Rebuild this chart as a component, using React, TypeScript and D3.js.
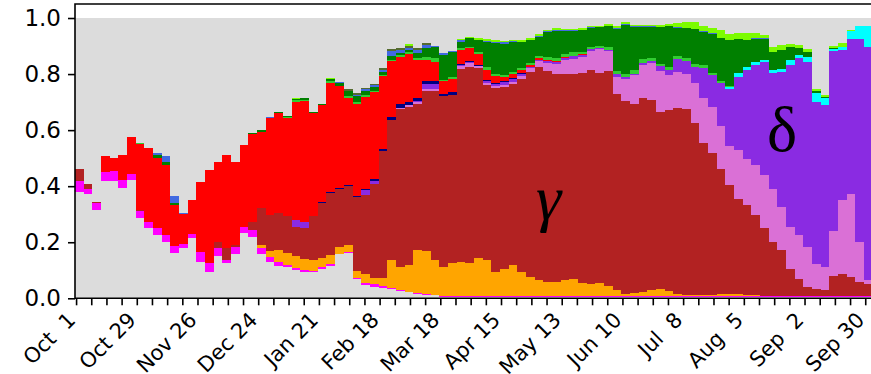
import React, { useEffect, useRef } from 'react';
import * as d3 from 'd3';

// Share of sequenced samples by lineage (percent), one value per 4-day block.
// Block k starts k*4 days after 1 Oct 2020.
const sampleDays = d3.range(0, 368, 4);

const otherLow = [
  38.1, 37.1, 31.5, 42.0, 41.7, 39.3, 42.3, 28.8, 25.0, 22.6,
  20.2, 16.1, 17.9, 21.4, 13.1, 9.5, 15.2, 12.5, 15.7, 23.2,
  22.0, 15.7, 12.9, 11.7, 11.0, 10.1, 9.3, 9.3, 10.5, 11.7,
  15.7, 16.1, 6.9, 4.8, 4.2, 3.8, 3.3, 2.6, 2.1, 1.7,
  1.2, 1.0, 0.6, 0.6, 0.6, 0.6, 0.6, 0.6, 0.6, 0.6,
  0.6, 0.6, 0.6, 0.6, 0.6, 0.6, 0.6, 0.6, 0.6, 0.6,
  0.6, 0.6, 0.6, 0.6, 0.6, 0.6, 0.6, 0.6, 0.6, 0.6,
  0.6, 0.6, 0.6, 0.6, 0.6, 0.6, 0.6, 0.6, 0.6, 0.6,
  0.6, 0.6, 0.6, 0.6, 0.6, 0.6, 0.6, 0.6, 0.6, 0.6,
  0.6, 0.6,
];
const magenta = [
  3.9, 1.9, 2.4, 3.2, 3.6, 3.0, 2.0, 2.4, 2.4, 2.4,
  2.4, 2.4, 1.4, 1.4, 3.3, 3.0, 2.6, 1.2, 2.7, 2.4,
  2.4, 2.1, 2.0, 1.4, 1.0, 0.8, 0.8, 0.5, 0.8, 0.5,
  0.2, 0.4, 0.4, 0.6, 0.8, 0.5, 0.2, 0.2, 0.2, 0.2,
  0.2, 0.2, 0.2, 0.2, 0.2, 0.2, 0.1, 0.1, 0.1, 0.1,
  0.1, 0.1, 0.1, 0.1, 0.1, 0.1, 0.1, 0.1, 0.1, 0.1,
  0.1, 0.1, 0.1, 0.1, 0.1, 0.1, 0.1, 0.1, 0.1, 0.1,
  0.1, 0.1, 0.1, 0.1, 0.1, 0.1, 0.1, 0.1, 0.1, 0.1,
  0.1, 0.1, 0.1, 0.1, 0.1, 0.1, 0.1, 0.1, 0.1, 0.1,
  0.1, 0.1,
];
const orange = [
  0, 0, 0, 0, 0, 0, 0, 0, 0, 0,
  0, 0, 0, 0, 0, 0, 0, 0, 0, 0,
  0, 1.2, 2.0, 4.0, 4.0, 4.2, 3.8, 3.8, 3.2, 3.2,
  2.5, 2.4, 2.5, 3.2, 2.4, 2.9, 10.1, 8.5, 9.5, 15.3,
  15.5, 12.5, 10.5, 11.8, 12.1, 11.7, 13.5, 12.9, 8.7, 9.9,
  11.1, 8.6, 6.9, 5.7, 5.1, 5.1, 5.7, 6.3, 4.8, 4.5,
  4.8, 3.7, 2.1, 1.0, 1.2, 1.6, 2.1, 2.5, 1.8, 0.7,
  0.6, 0.4, 0.4, 0.4, 1.0, 1.0, 1.0, 0.6, 0.4, 0.1,
  0, 0, 0, 0, 0, 0, 0, 0, 0, 0,
  0, 0,
];
const gamma = [
  4.2, 1.7, 0.6, 0, 0, 0, 0, 0.3, 0, 0,
  0, 0, 0, 0, 0, 0, 2.4, 4.2, 0.6, 0,
  3.0, 13.1, 12.9, 13.3, 13.3, 10.4, 11.1, 15.6, 19.4, 22.1,
  20.6, 21.3, 26.4, 28.1, 33.3, 45.2, 50.0, 56.3, 56.5, 52.0,
  57.1, 60.2, 60.7, 60.1, 69.0, 70.2, 67.9, 62.6, 65.7, 64.8,
  64.5, 69.0, 73.2, 76.2, 75.4, 74.4, 73.8, 73.2, 75.0, 76.2,
  75.0, 76.7, 70.2, 68.8, 67.4, 69.0, 68.1, 63.3, 64.6, 66.5,
  66.3, 61.5, 54.2, 50.6, 44.6, 38.7, 33.9, 32.1, 28.6, 24.2,
  19.4, 16.5, 9.9, 6.3, 3.3, 2.7, 2.1, 7.1, 8.1, 6.8,
  5.0, 4.5,
];
const orchid = [
  0, 0, 0, 0, 0, 0, 0, 0, 0, 0,
  0, 0, 0, 0, 0, 0, 0, 0, 0, 0,
  0, 0, 0, 0, 0, 0, 0, 0, 0, 0,
  0, 0, 0, 0, 0, 0, 0, 0.4, 0.5, 0.7,
  0.5, 0.7, 0, 0, 1.0, 1.2, 0.7, 0.5, 0.5, 0.7,
  1.0, 1.1, 1.2, 2.0, 2.7, 3.3, 4.8, 5.2, 5.6, 6.9,
  8.3, 7.1, 6.0, 7.9, 10.2, 12.1, 13.1, 14.6, 12.5, 12.7,
  12.5, 14.3, 16.1, 16.7, 15.0, 14.0, 17.3, 16.4, 17.9, 19.0,
  19.0, 15.5, 14.9, 15.5, 14.3, 8.9, 8.3, 16.1, 26.2, 29.8,
  14.3, 1.2,
];
const delta = [
  0, 0, 0, 0, 0, 0, 0, 0, 0, 0,
  0, 0, 0, 0, 0, 0, 0, 0, 0, 0,
  0, 0, 0, 0, 0, 2.4, 2.1, 0, 0, 0,
  0, 0, 0, 2.0, 1.2, 0, 0, 0, 0, 0.5,
  1.9, 1.8, 0, 0, 0.4, 0.4, 0, 0.7, 0.7, 1.0,
  0.8, 0.7, 0.6, 0.5, 0.6, 0.7, 0.8, 1.2, 0.7, 0.5,
  0.4, 0.5, 1.0, 0.7, 0.7, 0.7, 0.7, 1.8, 1.8, 4.8,
  4.5, 5.6, 10.7, 11.3, 15.5, 20.2, 26.2, 31.5, 35.7, 40.2,
  41.4, 48.0, 57.7, 63.1, 66.1, 57.7, 57.7, 64.3, 53.6, 55.1,
  72.4, 83.3,
];
const cyan = [
  0, 0, 0, 0, 0, 0, 0, 0, 0, 0,
  0, 0, 0, 0, 0, 0, 0, 0, 0, 0,
  0, 0, 0, 0, 0, 0, 0, 0, 0, 0,
  0, 0, 0, 0, 0, 0, 0, 0, 0, 0,
  0, 0, 0, 0, 0, 0, 0, 0, 0, 0,
  0, 0, 0, 0, 0, 0, 0, 0, 0, 0,
  0, 0, 0, 0, 0, 0, 0, 0, 0, 0,
  0, 0, 0, 0, 0, 0.7, 1.2, 1.2, 1.0, 0.8,
  0.8, 1.0, 1.8, 1.2, 1.8, 3.3, 2.7, 0.8, 1.2, 2.9,
  4.8, 7.4,
];
const navy = [
  0, 0, 0, 0, 0, 0, 0, 0, 0, 0,
  0, 0, 0, 0, 0, 0, 0, 0, 0, 0,
  0, 0, 0, 0, 0, 0, 0, 0, 0.3, 0.4,
  0.5, 0.4, 0.3, 0.4, 0.6, 0.8, 1.2, 1.4, 1.2, 1.0,
  1.2, 1.2, 1.0, 1.0, 0.4, 0.2, 0.4, 0.4, 0.4, 0.4,
  0.4, 0.2, 0, 0, 0, 0, 0, 0, 0, 0,
  0, 0, 0, 0, 0, 0, 0, 0, 0, 0,
  0, 0, 0, 0, 0, 0, 0, 0, 0, 0,
  0, 0, 0, 0, 0, 0, 0, 0, 0, 0,
  0, 0,
];
const red = [
  0, 0, 0, 5.4, 4.8, 8.9, 13.1, 23.6, 26.2, 25.0,
  25.0, 14.9, 10.7, 12.1, 25.2, 33.3, 28.6, 33.3, 29.8, 29.2,
  31.2, 27.4, 34.5, 35.7, 35.1, 42.3, 43.3, 36.9, 34.8, 39.0,
  36.3, 30.9, 33.0, 32.7, 31.0, 26.0, 19.8, 16.7, 17.3, 13.7,
  7.5, 6.8, 4.4, 4.5, 4.9, 4.8, 3.9, 3.5, 2.7, 1.5,
  1.4, 1.0, 0.5, 0.5, 0.4, 0.4, 0.2, 0, 0.4, 0.2,
  0, 0, 0, 0, 0, 0, 0, 0, 0, 0,
  0, 0, 0, 0, 0, 0, 0, 0, 0, 0,
  0, 0, 0, 0, 0, 0, 0, 0, 0, 0,
  0, 0,
];
const limeGreen = [
  0, 0, 0, 0, 0, 0, 0.3, 0.2, 0, 0,
  0, 0, 0, 0, 0, 0, 0, 0, 0, 0,
  0, 0, 0, 0, 0.3, 0.4, 0.4, 0, 0, 0.5,
  0, 0.5, 0.6, 0.6, 0.4, 0.4, 0.5, 0.6, 0.6, 0.8,
  1.0, 1.2, 0.6, 0.7, 0.6, 0.5, 0.7, 1.2, 0.7, 0.7,
  0.7, 1.0, 1.0, 0.8, 1.1, 1.1, 1.0, 1.4, 0.8, 0.7,
  0.7, 1.0, 1.0, 1.0, 1.4, 1.4, 1.2, 0.8, 1.2, 1.2,
  1.2, 1.0, 1.0, 0.7, 0.8, 0.5, 0, 0, 0, 0,
  0, 0, 0, 0, 0, 0, 0, 0, 0, 0,
  0, 0,
];
const green = [
  0, 0, 0, 0, 0, 0, 0, 0, 0, 1.2,
  1.0, 0.6, 0, 0, 0, 0, 0, 0, 0, 0,
  0.3, 0.4, 0, 0.4, 0.5, 0.6, 0.6, 0.5, 0.5, 0.8,
  1.0, 1.9, 2.0, 1.5, 1.5, 1.0, 1.2, 0.8, 0.6, 1.5,
  3.2, 3.9, 8.9, 8.8, 2.4, 2.9, 4.3, 9.0, 11.0, 11.2,
  11.0, 9.0, 8.1, 6.9, 9.0, 9.8, 8.5, 7.4, 7.7, 6.9,
  6.8, 7.4, 15.2, 17.4, 15.2, 11.4, 11.0, 13.0, 14.5, 10.0,
  10.6, 12.5, 11.9, 14.0, 15.2, 16.3, 12.1, 9.5, 8.3, 7.5,
  6.5, 7.0, 4.5, 2.4, 1.5, 0.5, 0.4, 0.4, 0, 0,
  0, 0,
];
const blue = [
  0, 0, 0, 0, 0, 0, 0, 0, 0, 0.6,
  2.0, 2.4, 0.5, 0, 0, 0, 0, 0, 0, 0,
  0, 0, 0.4, 0, 0, 0, 0, 0, 0, 0,
  0.5, 0, 0.4, 0.6, 0.6, 1.0, 1.8, 1.2, 0.8, 1.2,
  1.2, 0.6, 0.5, 0.5, 0.4, 0.2, 0.2, 0.4, 0.4, 0.4,
  0.2, 0.2, 0, 0.2, 0.2, 0.2, 0.2, 0.2, 0.2, 0.2,
  0.2, 0.2, 0.2, 0.2, 0.2, 0.2, 0.2, 0.2, 0.2, 0.2,
  0.2, 0, 0.2, 0.2, 0.2, 0.2, 0.2, 0.2, 0.2, 0.2,
  0, 0, 0, 0, 0, 0, 0, 0, 0, 0,
  0, 0,
];
const olive = [
  0, 0, 0, 0, 0, 0, 0, 0, 0, 0,
  0, 0, 0, 0, 0, 0, 0, 0, 0, 0,
  0, 0, 0, 0, 0, 0, 0, 0, 0, 0,
  0, 0.6, 0.6, 0.6, 0.6, 0.6, 1.0, 0.7, 0.7, 0.8,
  0.6, 0, 0, 0, 0, 0, 0, 0, 0, 0,
  0, 0, 0, 0, 0, 0, 0, 0, 0, 0,
  0, 0, 0, 0, 0, 0, 0, 0, 0, 0,
  0, 0, 0, 0, 0, 0, 0, 0, 0, 0,
  0, 0, 0, 0, 0, 0, 0, 0, 0, 0,
  0, 0,
];
const lawn = [
  0, 0, 0, 0, 0, 0, 0, 0, 0, 0,
  0, 0, 0, 0, 0, 0, 0, 0, 0, 0,
  0, 0, 0, 0, 0, 0.3, 0, 0, 0, 0.3,
  0, 0, 0, 0, 0, 0, 0, 0, 0.6, 0,
  0, 0, 0, 0, 0.4, 0.4, 0.5, 0.6, 0.6, 0.5,
  0.4, 0.5, 0.5, 0.7, 0.7, 0.6, 0.5, 0.4, 0.5, 0.4,
  0.4, 0.5, 0.7, 0.7, 0.6, 0.5, 0.5, 0.6, 0.6, 1.4,
  1.9, 2.5, 2.1, 1.9, 2.6, 2.1, 1.9, 2.5, 1.8, 1.2,
  1.8, 1.8, 1.4, 1.2, 1.4, 0.7, 0.5, 0.6, 1.2, 0.4,
  0, 0,
];

const seriesData: Record<string, number[]> = {
  otherLow, magenta, orange, gamma, orchid, delta, cyan, navy, red, limeGreen, green, blue, olive, lawn,
};
const keys = Object.keys(seriesData);
const colors: Record<string, string> = {
  otherLow: '#dcdcdc', magenta: '#ff00ff', orange: '#ffa500', gamma: '#b22222', orchid: '#da70d6',
  delta: '#8a2be2', cyan: '#00ffff', navy: '#000080', red: '#ff0000', limeGreen: '#32cd32',
  green: '#008000', blue: '#4169e1', olive: '#556b2f', lawn: '#7cfc00',
};

const yTicks = [0, 0.2, 0.4, 0.6, 0.8, 1.0];
const minorTickDays = d3.range(0, 365, 7);
const tickLabels = [
  'Oct  1', 'Oct 29', 'Nov 26', 'Dec 24', 'Jan 21', 'Feb 18', 'Mar 18',
  'Apr 15', 'May 13', 'Jun 10', 'Jul  8', 'Aug  5', 'Sep  2', 'Sep 30',
];

const App: React.FC = () => {
  const svgRef = useRef<SVGSVGElement>(null);

  useEffect(() => {
    if (!svgRef.current) return;
    const svg = d3.select(svgRef.current);
    svg.selectAll('*').remove();

    const W = 871, H = 374;
    const left = 75, top = 4, bottom = 298.3;
    const pxPerDay = 2.168;
    const t0 = Date.UTC(2020, 9, 1);
    const DAY = 864e5;
    const at = (d: number) => new Date(t0 + d * DAY);

    const x = d3.scaleUtc()
      .domain([at(-0.5), at(369.5)])
      .range([left, left + pxPerDay * 370]);
    const y = d3.scaleLinear().domain([0, 1.05]).range([bottom, top]);

    svg.append('rect').attr('width', W).attr('height', H).attr('fill', '#fff');

    // whatever is not one of the listed lineages fills the rest up to 1
    svg.append('rect')
      .attr('x', x(at(-0.5)))
      .attr('y', y(1))
      .attr('width', x(at(367.5)) - x(at(-0.5)))
      .attr('height', y(0) - y(1))
      .attr('fill', '#dcdcdc');

    const rows = sampleDays.map((d, i) => {
      const r: any = { day: d };
      keys.forEach(k => { r[k] = seriesData[k][i] / 100; });
      return r;
    });
    const stacked = d3.stack<any>().keys(keys)(rows);

    const area = d3.area<any>()
      .curve(d3.curveStepAfter)
      .x(p => x(at(p.day - 0.5)))
      .y0(p => y(p.y0))
      .y1(p => y(p.y1));

    stacked.forEach(layer => {
      const pts = layer.map(s => ({ day: s.data.day, y0: s[0], y1: s[1] }));
      const last = pts[pts.length - 1];
      pts.push({ ...last, day: last.day + 4 });
      svg.append('path')
        .attr('d', area(pts) as string)
        .attr('fill', colors[layer.key])
        .attr('shape-rendering', 'crispEdges');
    });

    // axes
    const yAxis = svg.append('g')
      .attr('transform', `translate(${left},0)`)
      .call(d3.axisLeft(y).tickValues(yTicks).tickFormat(d3.format('.1f')).tickSize(7).tickPadding(7));

    const xAxis = svg.append('g')
      .attr('transform', `translate(0,${bottom})`)
      .call(
        d3.axisBottom(x)
          .tickValues(minorTickDays.map(at))
          .tickFormat((_, i) => (i % 4 === 0 ? tickLabels[i / 4] : ''))
          .tickSize(7)
      );

    svg.selectAll('.domain').remove();
    svg.selectAll('.tick line').attr('stroke', '#000').attr('stroke-width', 1.6);
    svg.selectAll('.tick text')
      .attr('fill', '#000')
      .style('font-family', '"DejaVu Sans", sans-serif');
    yAxis.selectAll('.tick text').style('font-size', '23px');
    xAxis.selectAll('.tick text')
      .style('font-size', '21px')
      .style('white-space', 'pre')
      .attr('y', 0)
      .attr('dy', null)
      .attr('text-anchor', 'end')
      .attr('transform', 'translate(0,23) rotate(-45)');

    // frame
    svg.append('path')
      .attr('d', `M${W + 5},${top}H${left}V${bottom}H${W + 5}`)
      .attr('fill', 'none')
      .attr('stroke', '#000')
      .attr('stroke-width', 1.6);

    // variant names
    const names = [
      { text: 'γ', day: 218, share: 0.283, italic: true },
      { text: 'δ', day: 325.7, share: 0.526, italic: false },
    ];
    svg.selectAll('.variant')
      .data(names)
      .enter()
      .append('text')
      .attr('class', 'variant')
      .attr('x', d => x(at(d.day)))
      .attr('y', d => y(d.share))
      .attr('text-anchor', 'middle')
      .style('font-family', '"Liberation Serif", serif')
      .style('font-style', d => (d.italic ? 'italic' : 'normal'))
      .style('font-size', '64px')
      .attr('fill', '#000')
      .text(d => d.text);
  }, []);

  return (
    <svg
      ref={svgRef}
      width={871}
      height={374}
      style={{ position: 'absolute', left: 0, top: 0, display: 'block' }}
    />
  );
};

export default App;
